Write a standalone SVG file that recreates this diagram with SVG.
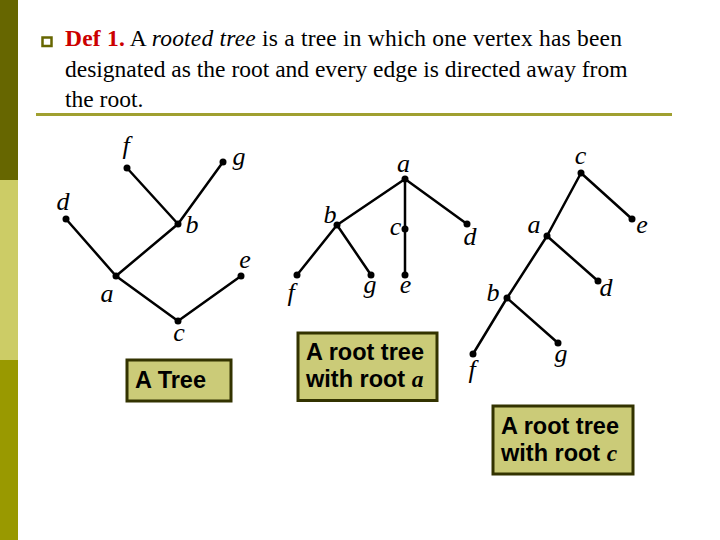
<svg xmlns="http://www.w3.org/2000/svg" width="720" height="540" viewBox="0 0 720 540">
<style>
.hd{font-family:"Liberation Serif","Times New Roman",serif;font-size:23.5px;fill:#000}
.lb{font-family:"Liberation Serif","Times New Roman",serif;font-size:26px;font-style:italic;fill:#000;text-anchor:middle}
.edge{stroke:#000;stroke-width:2.5;fill:none;stroke-linecap:round}
.dot{fill:#000}
.box{fill:#cbcb78;stroke:#333300;stroke-width:3}
.bt{font-family:"Liberation Sans",Arial,sans-serif;font-size:23.5px;font-weight:bold;fill:#000}
.bi{font-family:"Liberation Serif","Times New Roman",serif;font-style:italic;font-weight:bold}
</style>
<rect x="0" y="0" width="720" height="540" fill="#fff"/>
<!-- sidebar -->
<rect x="0" y="0" width="18" height="180" fill="#666600"/>
<rect x="0" y="180" width="18" height="180" fill="#cccc66"/>
<rect x="0" y="360" width="18" height="180" fill="#999900"/>
<!-- header -->
<rect x="42.5" y="37.5" width="9" height="8.5" fill="#fff" stroke="#666600" stroke-width="2.5"/>
<text class="hd" x="65" y="46" textLength="557" lengthAdjust="spacing"><tspan font-weight="bold" fill="#cc0000">Def 1.</tspan> A <tspan font-style="italic">rooted tree</tspan> is a tree in which one vertex has been</text>
<text class="hd" x="65" y="76.5">designated as the root and every edge is directed away from</text>
<text class="hd" x="65" y="107">the root.</text>
<rect x="36" y="113" width="636" height="3" fill="#a0a030"/>

<g id="connectors">
  <!-- tree 1 -->
  <line class="edge" x1="66" y1="219" x2="116" y2="276"/>
  <line class="edge" x1="116" y1="276" x2="178" y2="224"/>
  <line class="edge" x1="127" y1="168" x2="178" y2="224"/>
  <line class="edge" x1="223" y1="162" x2="178" y2="224"/>
  <line class="edge" x1="116" y1="276" x2="178" y2="321"/>
  <line class="edge" x1="178" y1="321" x2="241" y2="276"/>
  <!-- tree 2 -->
  <line class="edge" x1="405" y1="179" x2="337" y2="225"/>
  <line class="edge" x1="405" y1="179" x2="405" y2="275"/>
  <line class="edge" x1="405" y1="179" x2="467" y2="224"/>
  <line class="edge" x1="337" y1="225" x2="297" y2="275"/>
  <line class="edge" x1="337" y1="225" x2="371" y2="275"/>
  <!-- tree 3 -->
  <line class="edge" x1="581" y1="173" x2="547" y2="236"/>
  <line class="edge" x1="581" y1="173" x2="632" y2="219"/>
  <line class="edge" x1="547" y1="236" x2="598" y2="281"/>
  <line class="edge" x1="547" y1="236" x2="507" y2="298"/>
  <line class="edge" x1="507" y1="298" x2="558" y2="343"/>
  <line class="edge" x1="507" y1="298" x2="473" y2="354"/>
</g>

<!-- tree 1 nodes -->
<g id="t1-f"><circle class="dot" cx="127" cy="168" r="3.5"/><text class="lb" x="126" y="154">f</text></g>
<g id="t1-g"><circle class="dot" cx="223" cy="162" r="3.5"/><text class="lb" x="239" y="165">g</text></g>
<g id="t1-d"><circle class="dot" cx="66" cy="219" r="3.5"/><text class="lb" x="63" y="210">d</text></g>
<g id="t1-b"><circle class="dot" cx="178" cy="224" r="3.5"/><text class="lb" x="192" y="233">b</text></g>
<g id="t1-a"><circle class="dot" cx="116" cy="276" r="3.5"/><text class="lb" x="107" y="302">a</text></g>
<g id="t1-e"><circle class="dot" cx="241" cy="276" r="3.5"/><text class="lb" x="245" y="268">e</text></g>
<g id="t1-c"><circle class="dot" cx="178" cy="321" r="3.5"/><text class="lb" x="179" y="341">c</text></g>
<g id="box1"><rect class="box" x="127" y="360" width="104" height="41"/><text class="bt" x="135" y="388">A Tree</text></g>

<!-- tree 2 nodes -->
<g id="t2-a"><circle class="dot" cx="405" cy="179" r="3.5"/><text class="lb" x="403.5" y="172">a</text></g>
<g id="t2-b"><circle class="dot" cx="337" cy="225" r="3.5"/><text class="lb" x="330" y="223">b</text></g>
<g id="t2-c"><circle class="dot" cx="405" cy="229" r="3.5"/><text class="lb" x="395.5" y="235">c</text></g>
<g id="t2-d"><circle class="dot" cx="467" cy="224" r="3.5"/><text class="lb" x="470" y="245">d</text></g>
<g id="t2-f"><circle class="dot" cx="297" cy="275" r="3.5"/><text class="lb" x="291" y="301">f</text></g>
<g id="t2-g"><circle class="dot" cx="371" cy="275" r="3.5"/><text class="lb" x="370" y="293">g</text></g>
<g id="t2-e"><circle class="dot" cx="405" cy="275" r="3.5"/><text class="lb" x="405.5" y="293">e</text></g>
<g id="box2"><rect class="box" x="298" y="333" width="139" height="67.5"/><text class="bt" x="306" y="359.5">A root tree</text><text class="bt" x="306" y="387">with root <tspan class="bi">a</tspan></text></g>

<!-- tree 3 nodes -->
<g id="t3-c"><circle class="dot" cx="581" cy="173" r="3.5"/><text class="lb" x="580.5" y="164">c</text></g>
<g id="t3-e"><circle class="dot" cx="632" cy="219" r="3.5"/><text class="lb" x="642" y="233">e</text></g>
<g id="t3-a"><circle class="dot" cx="547" cy="236" r="3.5"/><text class="lb" x="534" y="233">a</text></g>
<g id="t3-d"><circle class="dot" cx="598" cy="281" r="3.5"/><text class="lb" x="606" y="296">d</text></g>
<g id="t3-b"><circle class="dot" cx="507" cy="298" r="3.5"/><text class="lb" x="493" y="301">b</text></g>
<g id="t3-g"><circle class="dot" cx="558" cy="343" r="3.5"/><text class="lb" x="561" y="362">g</text></g>
<g id="t3-f"><circle class="dot" cx="473" cy="354" r="3.5"/><text class="lb" x="472" y="378">f</text></g>
<g id="box3"><rect class="box" x="493" y="406" width="140" height="68"/><text class="bt" x="501" y="433.5">A root tree</text><text class="bt" x="501" y="461">with root <tspan class="bi">c</tspan></text></g>
</svg>
